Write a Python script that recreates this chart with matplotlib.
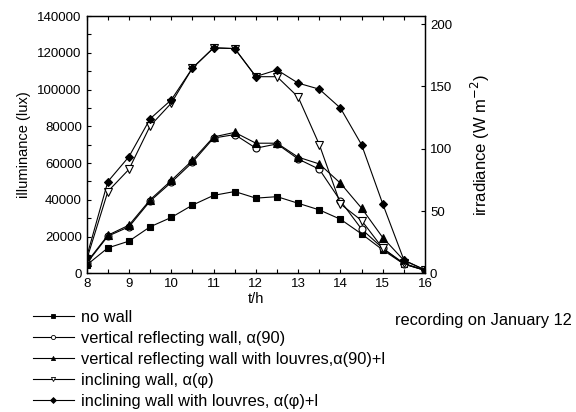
import numpy as np
import matplotlib
matplotlib.use("Agg")
import matplotlib.pyplot as plt
from matplotlib.lines import Line2D

plt.rcParams['font.family'] = ['Liberation Sans', 'DejaVu Sans']
plt.rcParams['font.size'] = 9.5

# heures de mesure
t = [8, 8.5, 9, 9.5, 10, 10.5, 11, 11.5, 12, 12.5, 13, 13.5, 14, 14.5, 15, 15.5, 16]

# éclairement (lux)
no_wall = [4500, 13800, 17500, 25300, 30400, 37100, 42400, 44500, 40900, 41700,
           38100, 34500, 29400, 21400, 12700, 5000, 1600]
vertical = [5400, 20200, 25300, 39300, 49500, 60400, 73600, 75500, 68100, 70400,
            62200, 56600, 39400, 24000, 13600, 5000, 1600]
vertical_louvres = [5900, 20700, 26200, 40000, 50500, 61500, 74200, 76700, 70800, 70800,
                    63200, 59500, 49000, 35400, 19400, 7000, 1800]
inclining = [7400, 44500, 56600, 80200, 92600, 111700, 122700, 122300, 107000, 107000,
             95900, 70000, 37700, 28700, 13600, 5400, 1600]
inclining_louvres = [9000, 49900, 63500, 84100, 94400, 111700, 122700, 122300, 107100, 110700,
                     103500, 100200, 89900, 69900, 37700, 7200, 1800]

labels = ["no wall",
          "vertical reflecting wall, α(90)",
          "vertical reflecting wall with louvres,α(90)+l",
          "inclining wall, α(φ)",
          "inclining wall with louvres, α(φ)+l"]
series = [no_wall, vertical, vertical_louvres, inclining, inclining_louvres]
styles = [('s', 'black', 4.5), ('o', 'white', 5), ('^', 'black', 5.5),
          ('v', 'white', 5.5), ('D', 'black', 4.5)]

fig = plt.figure(figsize=(5.76, 4.12), dpi=100)
ax = fig.add_axes([0.1505, 0.3367, 0.5875, 0.6243])

for y, (m, fc, ms) in zip(series, styles):
    ax.plot(t, y, color='black', lw=0.8, marker=m, markersize=ms,
            markerfacecolor=fc, markeredgecolor='black', markeredgewidth=0.8)

ax.set_xlim(8, 16)
ax.set_ylim(0, 140000)
ax.set_xticks(range(8, 17))
ax.set_xticks(np.arange(8, 16.01, 0.5), minor=True)
ax.set_yticks(range(0, 140001, 20000))
ax.set_yticks(range(0, 140001, 10000), minor=True)
ax.tick_params(which='both', direction='in', top=True, right=False, length=3, width=0.8)
ax.set_xlabel("t/h", labelpad=1, fontsize=10.5)
ax.set_ylabel("illuminance (lux)", fontsize=10.5, labelpad=5)

ax2 = ax.twinx()
ax2.set_ylim(0, 206.5)
ax2.set_yticks([0, 50, 100, 150, 200])
ax2.tick_params(direction='in', length=3, width=0.8)
ax2.set_ylabel("irradiance (W m$^{-2}$)", fontsize=12, labelpad=12)

for a in (ax, ax2):
    for s in a.spines.values():
        s.set_linewidth(0.9)

handles = [Line2D([], [], color='black', lw=0.8, marker=m, markersize=3,
                  markerfacecolor=fc, markeredgecolor='black', markeredgewidth=0.6)
           for (m, fc, ms) in styles]
fig.legend(handles, labels, loc='upper left', bbox_to_anchor=(0.057, 0.247),
           frameon=False, handlelength=2.5, handletextpad=0.45, labelspacing=0.36,
           borderaxespad=0, borderpad=0, fontsize=11.8)

fig.text(0.993, 0.221, "recording on January 12", ha='right', va='center', fontsize=11.8)

fig.savefig("out.png", dpi=100)
